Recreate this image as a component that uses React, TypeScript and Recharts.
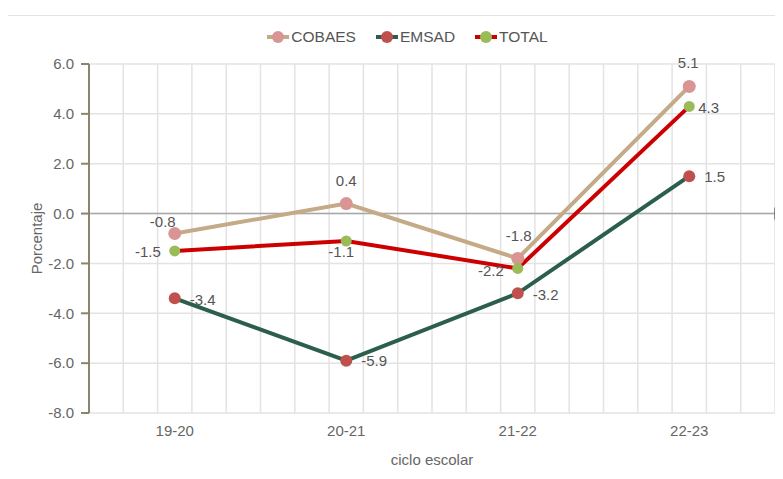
import React from 'react';
import {
  LineChart,
  Line,
  XAxis,
  YAxis,
  CartesianGrid,
  Legend,
  LabelList,
  ReferenceLine,
} from 'recharts';

const categories = ['19-20', '20-21', '21-22', '22-23'];
const cobaes = [-0.8, 0.4, -1.8, 5.1];
const emsad = [-3.4, -5.9, -3.2, 1.5];
const total = [-1.5, -1.1, -2.2, 4.3];
const yTicks = [-8, -6, -4, -2, 0, 2, 4, 6];

const data = categories.map((ciclo, i) => ({
  ciclo,
  COBAES: cobaes[i],
  EMSAD: emsad[i],
  TOTAL: total[i],
}));

const FONT = '"Liberation Sans", Arial, sans-serif';

const series = [
  { key: 'COBAES', stroke: '#c4aa86', dot: '#d99594', r: 6.5 },
  { key: 'EMSAD', stroke: '#2b5e4c', dot: '#c0504d', r: 6 },
  { key: 'TOTAL', stroke: '#cc0000', dot: '#9bbb59', r: 5.5 },
];

type Place = { anchor: 'start' | 'middle' | 'end'; dx: number; dy: number };

// where each value label sits relative to its point
const placement: Record<string, Place[]> = {
  COBAES: [
    { anchor: 'middle', dx: -12, dy: -12 },
    { anchor: 'middle', dx: 0, dy: -23 },
    { anchor: 'middle', dx: 1, dy: -23 },
    { anchor: 'middle', dx: -1, dy: -24 },
  ],
  EMSAD: [
    { anchor: 'start', dx: 15, dy: 1 },
    { anchor: 'start', dx: 15, dy: 0 },
    { anchor: 'start', dx: 15, dy: 1 },
    { anchor: 'start', dx: 15, dy: 0 },
  ],
  TOTAL: [
    { anchor: 'end', dx: -14, dy: 1 },
    { anchor: 'middle', dx: -5, dy: 11 },
    { anchor: 'end', dx: -14, dy: 2 },
    { anchor: 'start', dx: 9, dy: 1 },
  ],
};

const makeLabel = (key: string) => (props: any) => {
  const p = placement[key][props.index];
  if (!p) return null;
  return (
    <text
      x={props.x + p.dx}
      y={props.y + p.dy}
      textAnchor={p.anchor}
      dominantBaseline="central"
      fontSize={15}
      fontFamily={FONT}
      fill="#555"
    >
      {Number(props.value).toFixed(1)}
    </text>
  );
};

function LegendBox() {
  return (
    <div
      style={{
        display: 'flex',
        justifyContent: 'center',
        alignItems: 'center',
        height: 20,
        paddingLeft: 40,
        fontFamily: FONT,
        fontSize: 15.5,
        color: '#555',
      }}
    >
      {series.map((s) => (
        <div key={s.key} style={{ display: 'flex', alignItems: 'center', margin: '0 10px' }}>
          <svg width={22} height={14} style={{ marginRight: 2 }}>
            <line x1={0} y1={7} x2={22} y2={7} stroke={s.stroke} strokeWidth={4} />
            <circle cx={11} cy={7} r={6} fill={s.dot} />
          </svg>
          <span>{s.key}</span>
        </div>
      ))}
    </div>
  );
}

const axisEndTick = (props: any) => {
  const vb = props.viewBox;
  if (!vb) return null;
  const x = vb.x + vb.width;
  return <line x1={x} y1={vb.y - 6} x2={x} y2={vb.y + 6} stroke="#666" strokeWidth={1.5} />;
};

export default function App() {
  return (
    <div style={{ position: 'relative', width: 783, height: 479, margin: -8, overflow: 'hidden', background: '#fff' }}>
      <div
        style={{
          position: 'absolute',
          left: 7,
          top: 15,
          width: 800,
          height: 500,
          borderLeft: '1px solid #e3e3e3',
          borderTop: '1px solid #e3e3e3',
        }}
      />
      <div style={{ position: 'absolute', left: 0, top: 0 }}>
        <LineChart width={783} height={479} data={data} margin={{ top: 44, right: 8, left: 0, bottom: 10 }}>
          <CartesianGrid
            stroke="#e3e3e3"
            strokeWidth={1.5}
            verticalCoordinatesGenerator={({ offset }: any) =>
              Array.from({ length: 20 }, (_, i) => offset.left + (offset.width * (i + 1)) / 20)
            }
          />
          <XAxis
            dataKey="ciclo"
            scale="band"
            axisLine={false}
            tickLine={false}
            height={56}
            tickMargin={6}
            tick={{ fontSize: 15, fill: '#666', fontFamily: FONT }}
            label={{
              value: 'ciclo escolar',
              position: 'insideBottom',
              offset: 4,
              style: { fontSize: 15, fill: '#666', fontFamily: FONT },
            }}
          />
          <YAxis
            type="number"
            domain={[-8, 6]}
            ticks={yTicks}
            width={89}
            tickSize={8}
            tickMargin={7}
            tickFormatter={(v: number) => v.toFixed(1)}
            axisLine={{ stroke: '#8a866e', strokeWidth: 2 }}
            tickLine={{ stroke: '#8a866e', strokeWidth: 2 }}
            tick={{ fontSize: 15, fill: '#666', fontFamily: FONT }}
            label={{
              value: 'Porcentaje',
              angle: -90,
              position: 'center',
              dx: -8,
              style: { fontSize: 15, fill: '#666', fontFamily: FONT },
            }}
          />
          <ReferenceLine y={0} stroke="#a8a8a8" strokeWidth={1.5} label={axisEndTick} />
          <Legend verticalAlign="top" wrapperStyle={{ top: 27 }} content={() => <LegendBox />} />
          {series.map((s) => (
            <Line
              key={s.key}
              dataKey={s.key}
              stroke={s.stroke}
              strokeWidth={4}
              dot={{ r: s.r, fill: s.dot, stroke: 'none', strokeWidth: 0 }}
              activeDot={false}
              isAnimationActive={false}
            >
              <LabelList dataKey={s.key} content={makeLabel(s.key)} />
            </Line>
          ))}
        </LineChart>
      </div>
    </div>
  );
}
